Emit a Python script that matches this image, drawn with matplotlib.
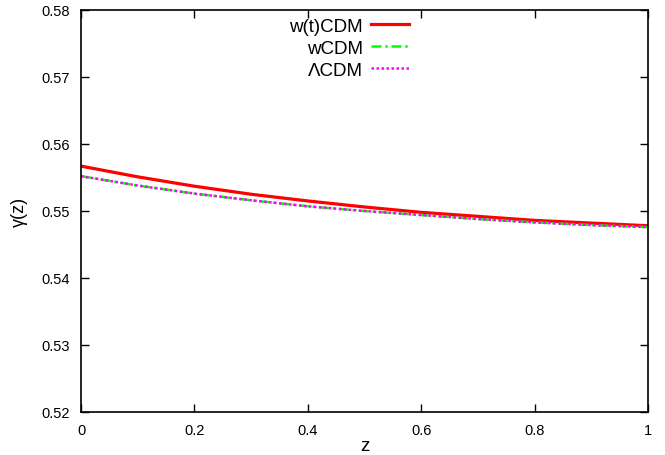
import matplotlib
matplotlib.use("Agg")
import matplotlib.pyplot as plt

z = [0.0, 0.1, 0.2, 0.3, 0.4, 0.5, 0.6, 0.7, 0.8, 0.9, 1.0]
gamma_wt = [0.5567, 0.5551, 0.5537, 0.5525, 0.5515, 0.5506, 0.5498, 0.5492, 0.5486, 0.5482, 0.5478]
gamma_w = [0.5552, 0.5538, 0.5526, 0.5516, 0.5507, 0.5500, 0.5494, 0.5488, 0.5483, 0.5479, 0.5476]
gamma_l = [0.5552, 0.5538, 0.5526, 0.5516, 0.5507, 0.5500, 0.5494, 0.5488, 0.5483, 0.5479, 0.5476]
labels = ["w(t)CDM", "wCDM", "ΛCDM"]
xticks = [0, 0.2, 0.4, 0.6, 0.8, 1]
yticks = [0.52, 0.53, 0.54, 0.55, 0.56, 0.57, 0.58]

plt.rcParams['font.family'] = ['Liberation Sans', 'DejaVu Sans']
fig = plt.figure(figsize=(6.65, 4.56), dpi=100)
ax = fig.add_axes([81/665, 43/456, (648-81)/665, (413-11)/456])

ax.plot(z, gamma_wt, color='#ff0000', lw=2.3, ls='-', label=labels[0])
ax.plot(z, gamma_w, color='#00ff00', lw=1.8, ls=(0, (4, 1.5, 1, 1.5)), label=labels[1])
ax.plot(z, gamma_l, color='#ff00ff', lw=1.8, ls=(0, (1, 1)), label=labels[2])

ax.set_xlim(0, 1)
ax.set_ylim(0.52, 0.58)
ax.set_xticks(xticks)
ax.set_xticklabels([f"{t:g}" for t in xticks])
ax.set_yticks(yticks)
ax.set_yticklabels([f"{t:.2f}" for t in yticks])
ax.tick_params(direction='in', top=True, right=True, length=6, width=1, labelsize=10.5, pad=8)
for s in ax.spines.values():
    s.set_linewidth(1.2)
ax.set_xlabel("z", fontsize=13.5, labelpad=0)
ax.set_ylabel("γ(z)", fontsize=13, labelpad=10)

leg = ax.legend(loc='upper right', bbox_to_anchor=((416 - 81) / 567, 1.0), frameon=False, markerfirst=False,
                fontsize=13.5, handlelength=2.0, handletextpad=0.45, labelspacing=0.27, borderaxespad=0.0)
for t in leg.get_texts():
    t.set_ha('right')
fig.savefig("out.png", dpi=100)
